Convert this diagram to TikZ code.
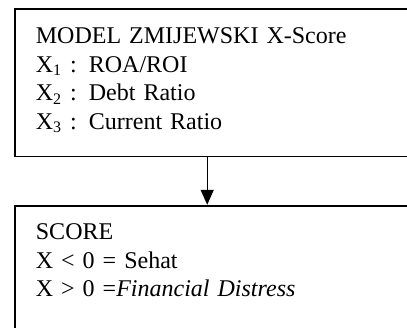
\documentclass[tikz,border=0pt]{standalone}
\usepackage{fontspec}
\setmainfont{Liberation Serif}
\usepackage{tikz}
\usetikzlibrary{positioning, arrows.meta}

\begin{document}
\begin{tikzpicture}[
    node distance=23.75pt,
    panel/.style={rectangle, draw=black, line width=0.9pt, minimum width=260pt, text width=239pt, inner xsep=10.5pt, inner ysep=0pt, align=left, font=\fontsize{12pt}{14.2pt}\selectfont},
    flow/.style={-{Triangle[length=7.5pt, width=6.5pt]}, line width=0.7pt}
]
    \useasboundingbox (0,0) rectangle (203.5pt,-163.5pt);

    \node[panel, anchor=north west, text height=17.5pt, text depth=56.25pt] (model) at (7pt,-4pt) {MODEL ZMIJEWSKI X-Score\\X\textsubscript{1} : ROA/ROI\\X\textsubscript{2} : Debt Ratio\\X\textsubscript{3} : Current Ratio};
    \node[panel, below=of model, text height=17pt, text depth=60pt] (score) {SCORE\\X < 0 = Sehat\\X > 0 =\textit{Financial Distress}};

    % Arrow from model to score
    \draw[flow] ([xshift=96.6pt]model.south west) -- ([xshift=96.6pt]score.north west);
\end{tikzpicture}
\end{document}
